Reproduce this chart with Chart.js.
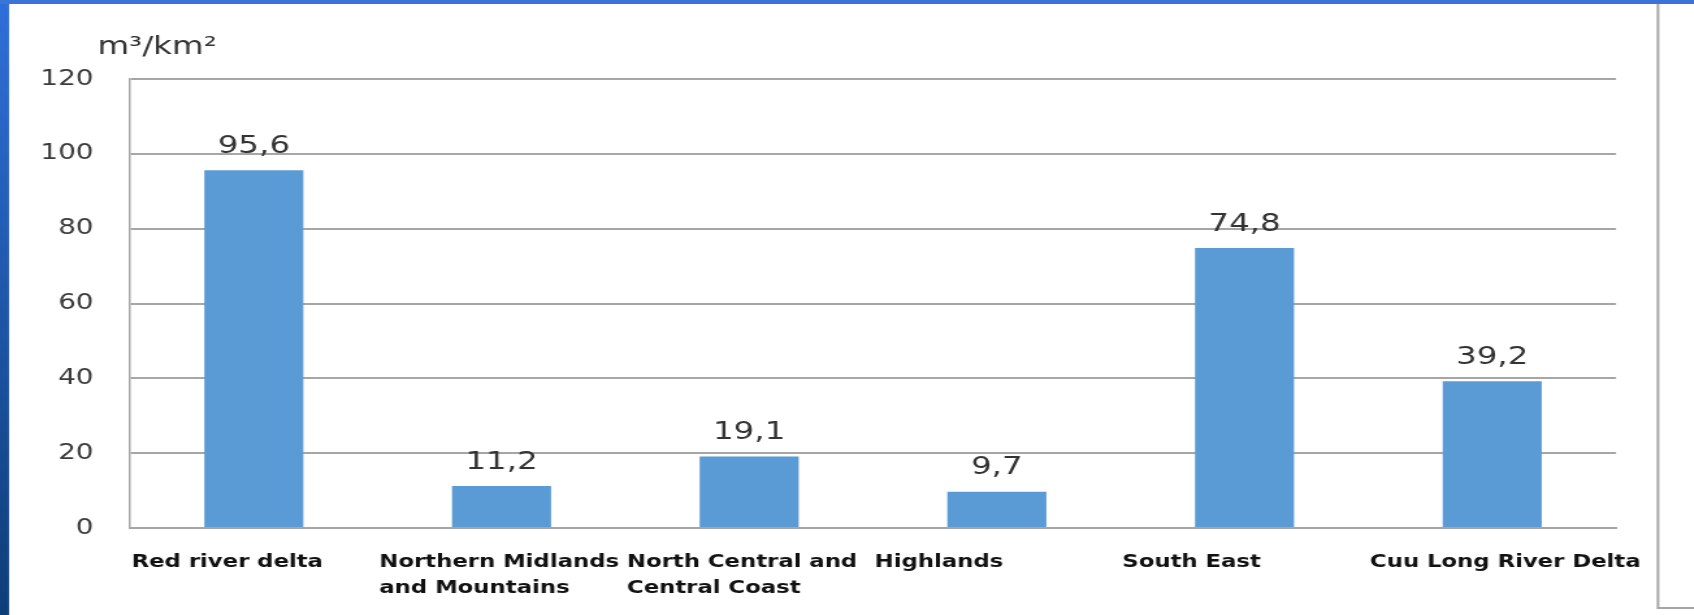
<!DOCTYPE html>
<html>
<head>
<meta charset="utf-8">
<script src="https://cdn.jsdelivr.net/npm/chart.js@4.4.1/dist/chart.umd.min.js"></script>
<style>
  html, body { margin: 0; padding: 0; background: #fff; overflow: hidden; }
  /* the original picture is stretched sideways, so is this one */
  #wrap {
    position: relative;
    width: calc(1694px / 1.3);
    height: 615px;
    transform: scaleX(1.3);
    transform-origin: 0 0;
  }
</style>
</head>
<body>
<div id="wrap"><canvas id="densityChart"></canvas></div>
<script>
const STRETCH = 1.3;

// regions and values (m3/km2)
const regions = [
    'Red river delta',
    ['Northern Midlands', 'and Mountains'],
    ['North Central and', 'Central Coast'],
    'Highlands',
    'South East',
    'Cuu Long River Delta'
];
const density = [95.6, 11.2, 19.1, 9.7, 74.8, 39.2];
const yTicks = [0, 20, 40, 60, 80, 100, 120];
const unitLabel = 'm\u00B3/km\u00B2';

// frame: blue strip on the left, blue bar on top, grey box line on the right
const framePlugin = {
    id: 'frame',
    beforeDraw(chart) {
        const ctx = chart.ctx;
        const h = chart.height, w = chart.width;
        ctx.save();
        const g = ctx.createLinearGradient(0, 0, 0, h);
        g.addColorStop(0, '#2f6fd8');
        g.addColorStop(1, '#0e3e78');
        ctx.fillStyle = g;
        ctx.fillRect(0, 0, 9 / STRETCH, h);
        ctx.fillStyle = '#3a74d6';
        ctx.fillRect(0, 0, w, 4);
        ctx.strokeStyle = '#a6a6a6';
        ctx.lineWidth = 2;
        ctx.beginPath();
        ctx.moveTo(1658 / STRETCH, 4);
        ctx.lineTo(1658 / STRETCH, 608);
        ctx.lineTo(w, 608);
        ctx.stroke();
        ctx.restore();
    },
    afterDatasetsDraw(chart) {
        const ctx = chart.ctx;
        const area = chart.chartArea;
        ctx.save();
        // unit label above the y axis
        ctx.fillStyle = '#333';
        ctx.font = '25px "DejaVu Sans"';
        ctx.textAlign = 'left';
        ctx.textBaseline = 'middle';
        ctx.fillText(unitLabel, area.left - 25, area.top - 32);

        // value labels on top of the bars
        ctx.font = '25px "DejaVu Sans"';
        ctx.textAlign = 'center';
        chart.getDatasetMeta(0).data.forEach(function(bar, i) {
            const v = chart.data.datasets[0].data[i];
            ctx.fillText(v.toFixed(1).replace('.', ','), bar.x, bar.y - 24);
        });
        ctx.restore();
    }
};

new Chart(document.getElementById('densityChart'), {
    type: 'bar',
    data: {
        labels: regions,
        datasets: [{
            data: density,
            backgroundColor: '#5b9bd5',
            borderWidth: 0,
            barPercentage: 1,
            categoryPercentage: 0.4
        }]
    },
    options: {
        responsive: true,
        maintainAspectRatio: false,
        animation: false,
        layout: {
            padding: { left: 8, top: 79, right: 60, bottom: 0 }
        },
        plugins: {
            legend: { display: false },
            tooltip: { enabled: false }
        },
        scales: {
            x: {
                grid: { display: false, drawTicks: false },
                border: { display: true, color: '#a6a6a6', width: 2 },
                ticks: {
                    align: 'start',
                    labelOffset: -94,
                    padding: 21,
                    maxRotation: 0,
                    autoSkip: false,
                    color: '#111',
                    font: { family: 'DejaVu Sans', size: 17.5, weight: 'bold', lineHeight: 1.5 }
                },
                afterFit(scale) {
                    scale.height = 87;
                    scale.paddingLeft = 0;
                    scale.paddingRight = 0;
                }
            },
            y: {
                min: 0,
                max: 120,
                afterBuildTicks(scale) {
                    scale.ticks = yTicks.map(v => ({ value: v }));
                },
                grid: { color: '#a6a6a6', lineWidth: 2, drawTicks: false },
                border: { display: true, color: '#a6a6a6', width: 1.5 },
                ticks: {
                    padding: 28,
                    color: '#3a3a3a',
                    font: { family: 'DejaVu Sans', size: 21.5 }
                },
                afterFit(scale) {
                    scale.width = 92;
                }
            }
        }
    },
    plugins: [framePlugin]
});
</script>
</body>
</html>
